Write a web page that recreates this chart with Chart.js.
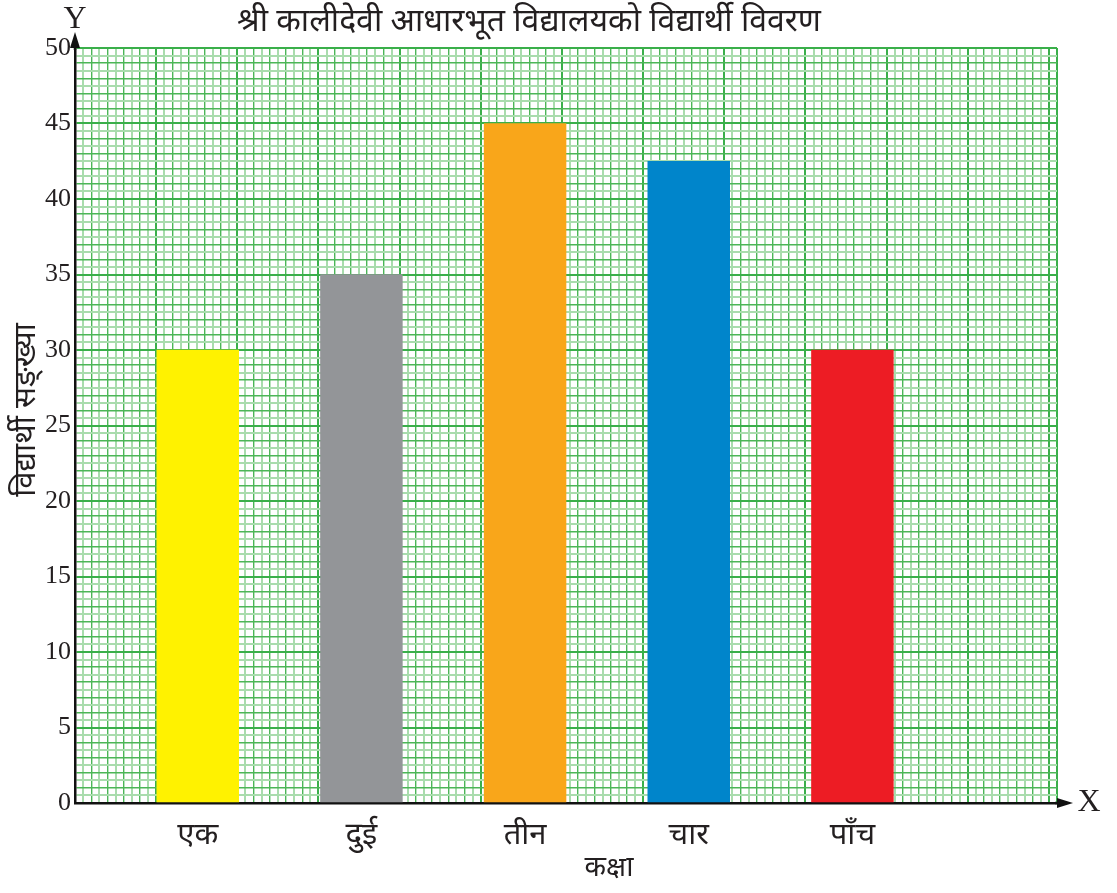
<!DOCTYPE html>
<html>
<head>
<meta charset="utf-8">
<script src="https://cdn.jsdelivr.net/npm/chart.js@4/dist/chart.umd.min.js"></script>
<style>
  html, body { margin: 0; padding: 0; background: #fff; }
  #wrap { width: 1117px; height: 893px; }
</style>
</head>
<body>
<div id="wrap"><canvas id="chart"></canvas></div>
<script>
const chartTitle = 'श्री कालीदेवी आधारभूत विद्यालयको विद्यार्थी विवरण';
const xTitle = 'कक्षा';
const yTitle = 'विद्यार्थी सङ्ख्या';
const categories = ['एक', 'दुई', 'तीन', 'चार', 'पाँच'];
const students = [30, 35, 45, 42.5, 30];
const barColors = ['#fff200', '#939598', '#f9a61a', '#0085cb', '#ed1c24'];
const yMax = 50;
const yLabelStep = 5;

// 12 graph-paper columns, bars sit in every second one
const slots = Array(12).fill('');
const slotValues = Array(12).fill(null);
const slotColors = Array(12).fill('transparent');
categories.forEach((c, i) => {
	slots[2 * i + 1] = c;
	slotValues[2 * i + 1] = students[i];
	slotColors[2 * i + 1] = barColors[i];
});

const ink = '#231f20';
const devFont = "'Noto Sans', 'Noto Sans Devanagari', sans-serif";
const serifFont = "'Liberation Serif', 'Times New Roman', serif";

// value of the grid line being drawn (border context has no tick)
const tv = (c) => (c.tick ? c.tick.value : 0);
const gridColor = (major, mid) => (major ? '#3aaf4a' : mid ? '#4cb657' : '#a9dcad');
const gridWidth = (major, mid) => (major ? 2 : mid ? 1.4 : 2);

const extras = {
	id: 'extras',
	afterDraw(chart) {
		const {ctx, chartArea: a} = chart;
		ctx.save();
		ctx.fillStyle = '#111';
		// y arrow
		ctx.beginPath();
		ctx.moveTo(a.left, a.top - 16);
		ctx.lineTo(a.left - 5, a.top);
		ctx.lineTo(a.left + 5, a.top);
		ctx.closePath();
		ctx.fill();
		ctx.fillRect(a.left - 1.25, a.top - 4, 2.5, 6);
		// x arrow
		ctx.beginPath();
		ctx.moveTo(a.right + 16, a.bottom);
		ctx.lineTo(a.right, a.bottom - 5);
		ctx.lineTo(a.right, a.bottom + 5);
		ctx.closePath();
		ctx.fill();
		ctx.fillRect(a.right - 2, a.bottom - 1.25, 4, 2.5);

		ctx.fillStyle = ink;
		ctx.textAlign = 'center';
		ctx.textBaseline = 'middle';
		ctx.font = '32px ' + serifFont;
		ctx.fillText('Y', a.left, 20);
		ctx.fillText('X', a.right + 32, a.bottom);

		ctx.font = '32px ' + devFont;
		ctx.fillText(chartTitle, 529, 22);
		ctx.font = '28px ' + devFont;
		ctx.fillText(xTitle, 609, 868);

		ctx.translate(26, 410);
		ctx.rotate(-Math.PI / 2);
		ctx.font = '31px ' + devFont;
		ctx.fillText(yTitle, 0, 0);
		ctx.restore();
	}
};

new Chart(document.getElementById('chart'), {
	type: 'bar',
	data: {
		labels: slots,
		datasets: [{
			data: slotValues,
			backgroundColor: slotColors,
			barPercentage: 1,
			categoryPercentage: 1,
			borderWidth: 0,
		}]
	},
	options: {
		responsive: true,
		maintainAspectRatio: false,
		animation: false,
		layout: { padding: { top: 48, right: 60, left: 0, bottom: 0 } },
		plugins: {
			legend: { display: false },
			tooltip: { enabled: false },
		},
		scales: {
			x: {
				type: 'category',
				offset: true,
				z: 1,
				grid: { display: false },
				border: { color: '#111', width: 2.5 },
				ticks: {
					autoSkip: false,
					maxRotation: 0,
					padding: 6,
					color: ink,
					font: { family: devFont, size: 31 },
				},
				afterFit: (s) => { s.height = 90; },
			},
			xGrid: {
				type: 'linear',
				position: 'bottom',
				min: 0,
				max: 120,
				ticks: { display: false, stepSize: 1, maxTicksLimit: 200 },
				grid: {
					drawTicks: false,
					color: (c) => gridColor(tv(c) % 10 === 0, tv(c) % 2 === 0),
					lineWidth: (c) => gridWidth(tv(c) % 10 === 0, tv(c) % 2 === 0),
				},
				border: { display: false },
				afterFit: (s) => { s.height = 0; },
			},
			y: {
				min: 0,
				max: yMax,
				ticks: {
					stepSize: 0.5,
					maxTicksLimit: 200,
					autoSkip: false,
					padding: 4,
					color: ink,
					font: { family: serifFont, size: 26 },
					callback: (v) => (v % yLabelStep === 0 ? v : ''),
				},
				grid: {
					drawTicks: false,
					color: (c) => gridColor(tv(c) % 5 === 0, tv(c) % 1 === 0),
					lineWidth: (c) => gridWidth(tv(c) % 5 === 0, tv(c) % 1 === 0),
				},
				border: { color: '#111', width: 2.5 },
				afterFit: (s) => { s.width = 75; },
			},
		},
	},
	plugins: [extras],
});
</script>
</body>
</html>
